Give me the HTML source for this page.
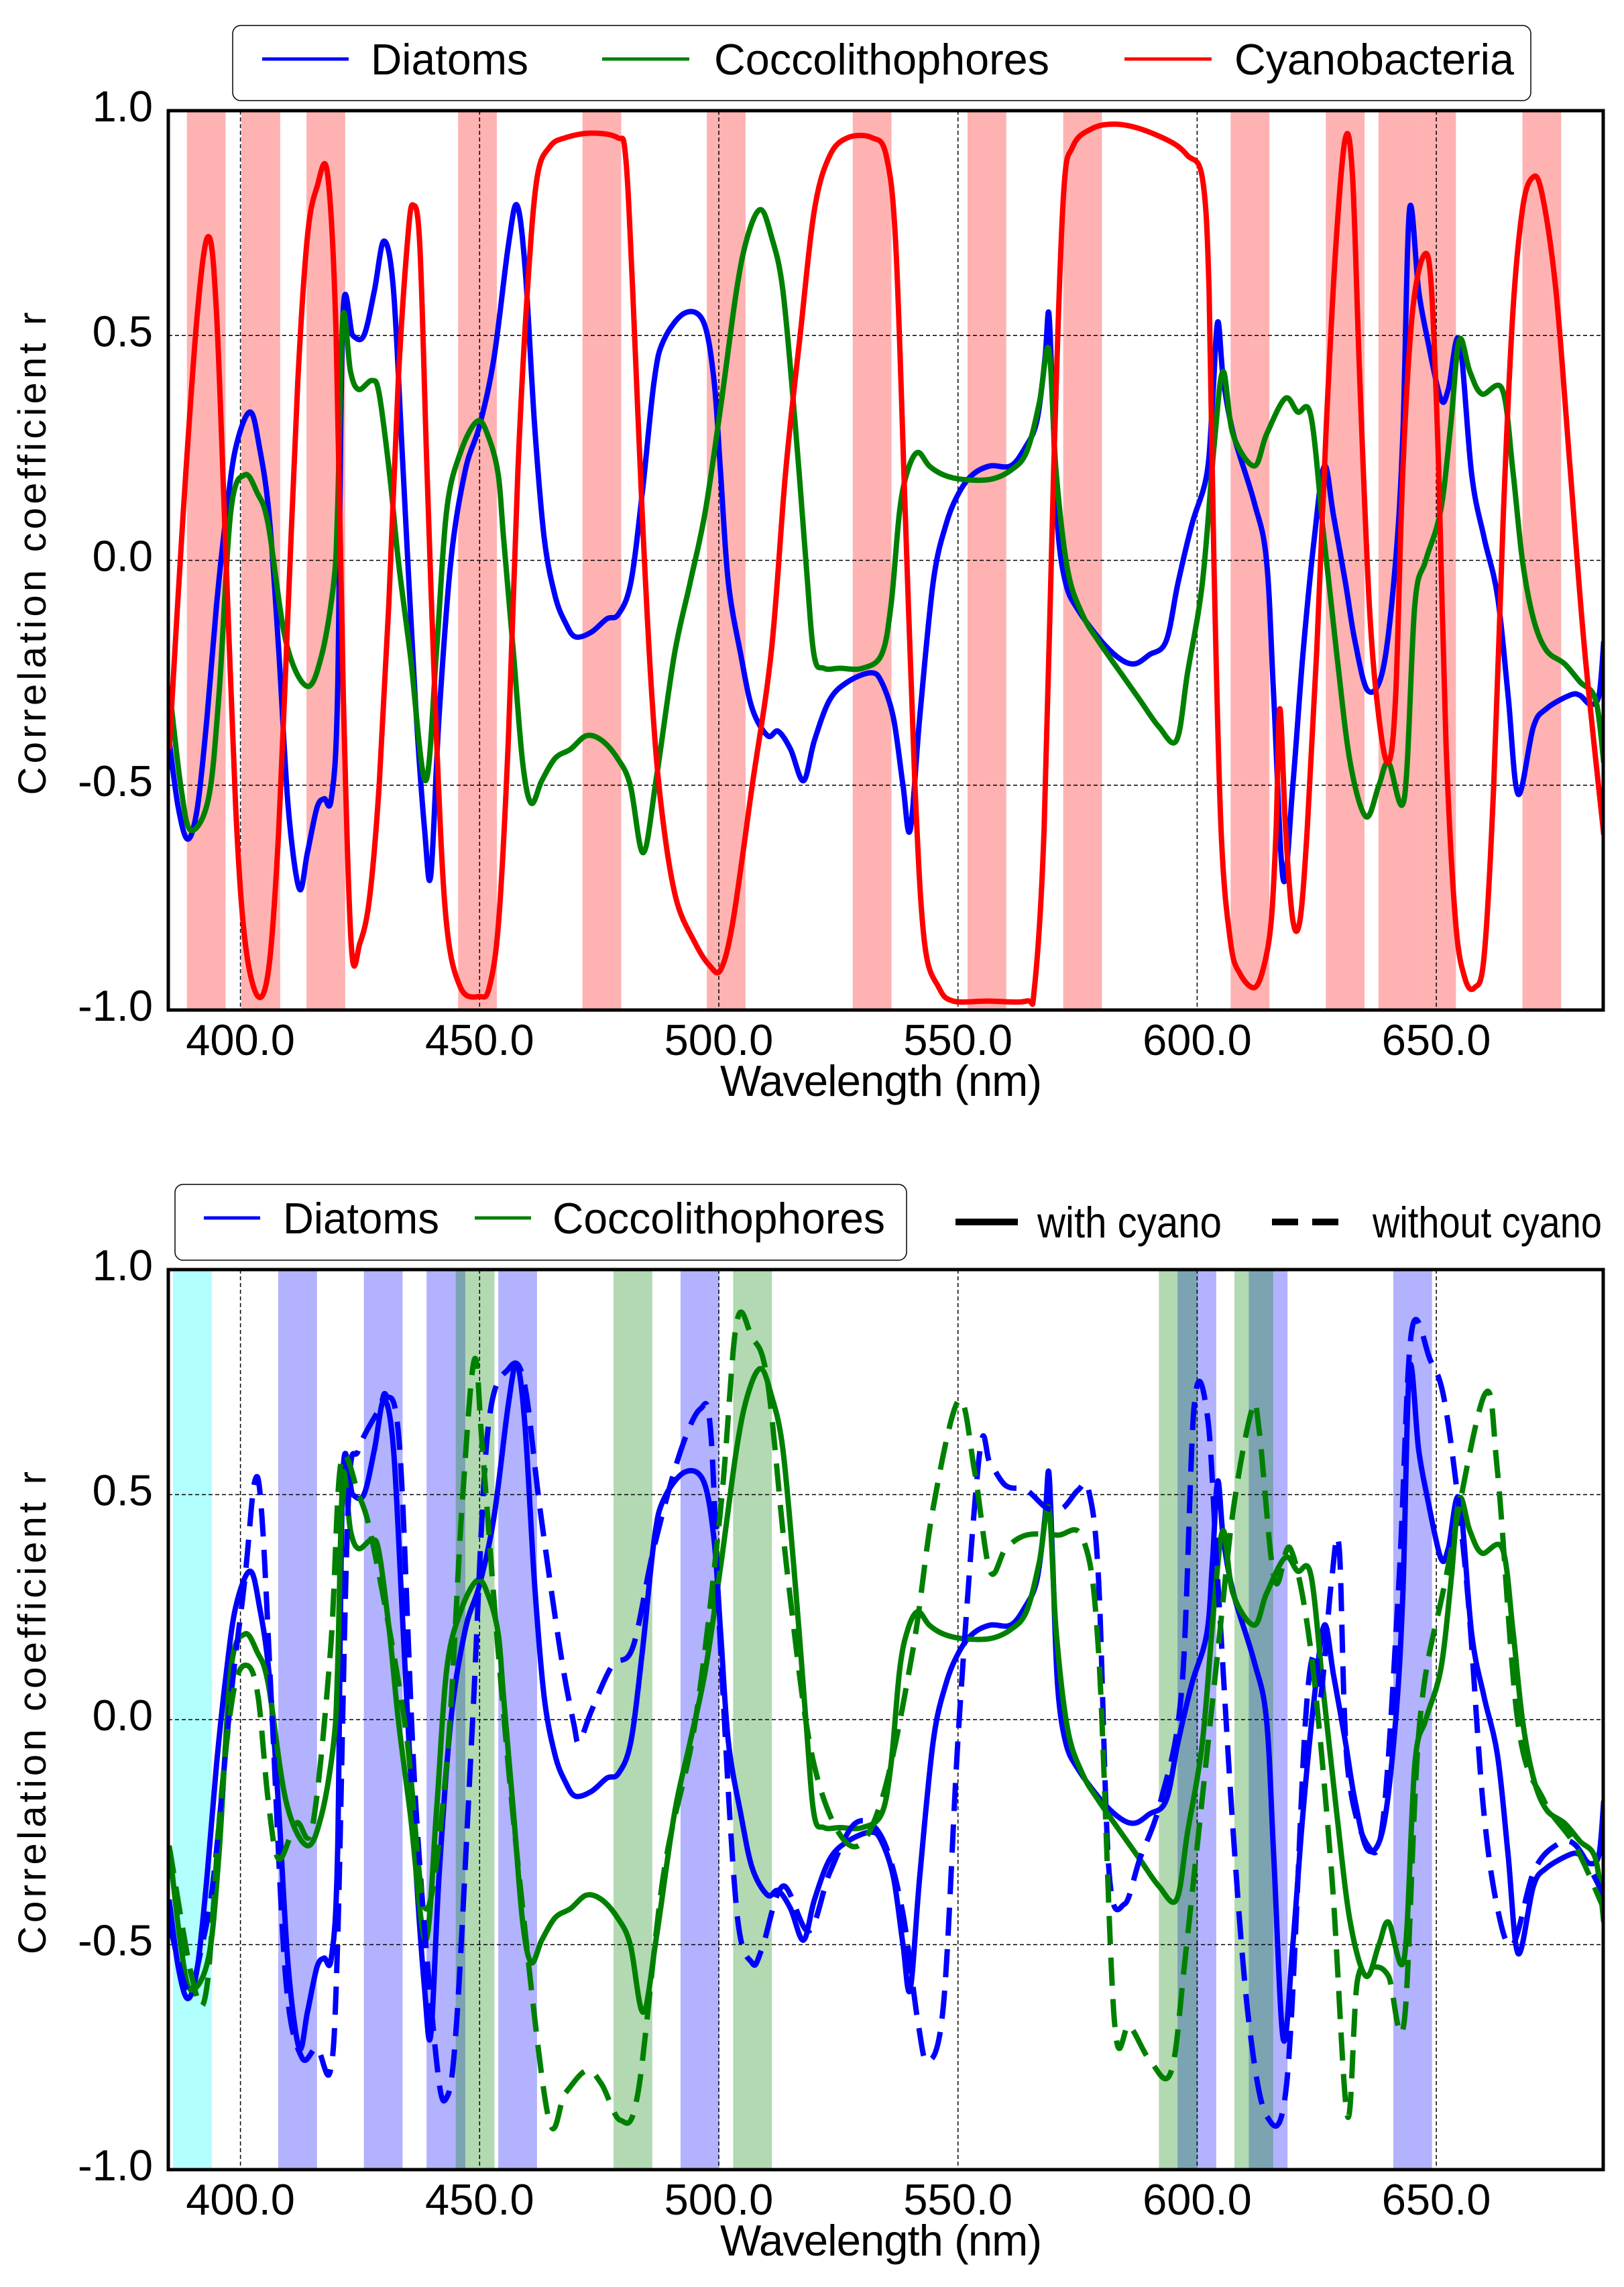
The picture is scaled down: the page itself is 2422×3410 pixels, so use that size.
<!DOCTYPE html>
<html><head><meta charset="utf-8"><style>
html,body{margin:0;padding:0;background:#fff}
svg{display:block}
text{font-family:"Liberation Sans",sans-serif;fill:#000}
</style></head><body>
<svg id="fig" width="2422" height="3410" viewBox="0 0 2422 3410" xmlns="http://www.w3.org/2000/svg">
<defs>
<clipPath id="clipTop"><rect x="251" y="165" width="2140" height="1341"/></clipPath>
<clipPath id="clipBot"><rect x="251" y="1893" width="2140" height="1342"/></clipPath>
</defs>
<g id="top"></g>
<g id="bot"></g>
</svg>
<script>
// ---- data ----
const xTicks = [400, 450, 500, 550, 600, 650];
const yTicks = [-1.0, -0.5, 0.0, 0.5, 1.0];
const yGrid = [-0.5, 0.0, 0.5];
const bandWidth = 8.1;
const cyanoBandStarts = [377, 388.8, 400.2, 413.8, 445.5, 471.5, 497.5, 528, 552, 572, 607, 626.9, 637.9, 646, 668];
const cyanBandStarts = [385.9];
const diatomBandStarts = [407.9, 425.8, 438.9, 453.9, 492, 595.9, 610.8, 641];
const coccoBandStarts = [445, 478, 503, 592, 607.8];

const cyanoR = [[385.1,-0.42],[388,0.1],[391,0.55],[393.3,0.72],[395,0.55],[397,0.0],[399,-0.55],[401,-0.85],[403.7,-0.97],[406,-0.9],[408,-0.6],[410,-0.1],[412,0.4],[414,0.72],[416,0.83],[418.2,0.86],[420,0.5],[421.5,-0.3],[423.2,-0.86],[425,-0.85],[427,-0.75],[429,-0.5],[431,-0.1],[433,0.4],[435,0.72],[436.1,0.79],[437.5,0.7],[439,0.2],[441,-0.4],[443,-0.8],[446,-0.95],[450,-0.97],[452,-0.95],[454,-0.8],[456,-0.4],[458,0.2],[460,0.6],[462,0.85],[464.7,0.92],[468,0.94],[473.4,0.95],[478.8,0.94],[480.5,0.9],[482,0.6],[484,0.1],[486,-0.3],[488,-0.55],[491,-0.75],[495,-0.85],[498,-0.9],[500.4,-0.91],[503,-0.8],[507,-0.5],[511,-0.2],[514,0.2],[517,0.5],[520,0.78],[523.2,0.9],[527,0.94],[532,0.94],[535,0.9],[537,0.7],[539,0.1],[541,-0.5],[543,-0.85],[546,-0.95],[549,-0.98],[556,-0.98],[564.3,-0.98],[566,-0.95],[568,-0.6],[570,0.2],[572,0.8],[574,0.92],[578,0.96],[582.7,0.97],[588,0.96],[594.6,0.93],[598,0.9],[601.1,0.85],[602.5,0.6],[603.5,0.0],[605,-0.6],[607,-0.85],[609,-0.92],[612,-0.95],[614,-0.9],[615.5,-0.8],[616.5,-0.6],[617.3,-0.33],[618.5,-0.6],[620,-0.8],[621.5,-0.8],[623,-0.6],[625,-0.2],[627,0.3],[629,0.7],[631,0.94],[632.5,0.85],[634,0.4],[636,-0.1],[638,-0.35],[640,-0.45],[641.5,-0.3],[643,0.2],[645,0.55],[647.5,0.68],[649,0.6],[650.5,0.2],[652,-0.4],[654,-0.8],[656,-0.93],[658,-0.95],[660,-0.88],[662,-0.5],[664,0.1],[666,0.55],[668,0.78],[670,0.85],[672,0.82],[675,0.6],[678,0.2],[681,-0.2],[685,-0.61]];

const diatomsWith = [[385.1,-0.4],[387,-0.55],[389,-0.62],[391,-0.55],[393,-0.35],[395,-0.1],[397,0.1],[399,0.25],[402,0.33],[404,0.25],[406,0.1],[408,-0.2],[410,-0.55],[412.3,-0.73],[414,-0.65],[416,-0.55],[417.5,-0.53],[419,-0.53],[420.3,-0.3],[421.4,0.54],[423.5,0.5],[425.8,0.5],[428,0.6],[430,0.71],[432,0.6],[434,0.2],[436.5,-0.3],[438.5,-0.6],[439.8,-0.7],[441.5,-0.35],[444,0.0],[447,0.2],[450,0.3],[453,0.45],[456,0.7],[457.8,0.79],[459.5,0.65],[461.5,0.3],[463.5,0.05],[465.8,-0.08],[468,-0.14],[470,-0.17],[473.3,-0.16],[476.6,-0.13],[479,-0.12],[481.6,-0.05],[484,0.15],[486.5,0.4],[488.5,0.49],[492.9,0.55],[496.8,0.53],[499,0.4],[500.4,0.19],[502,-0.05],[504.6,-0.21],[507,-0.33],[510.2,-0.39],[512.4,-0.38],[515,-0.42],[517.7,-0.49],[520,-0.4],[523.2,-0.31],[527,-0.27],[531.8,-0.25],[534,-0.27],[536.5,-0.35],[538.5,-0.5],[540,-0.6],[542,-0.35],[544.8,-0.05],[547.5,0.08],[550.2,0.15],[553,0.19],[556.7,0.21],[561,0.21],[564,0.25],[566.5,0.31],[568.2,0.45],[569,0.55],[569.8,0.35],[570.8,0.08],[572.5,-0.05],[575.1,-0.11],[580,-0.18],[584,-0.22],[587,-0.23],[590,-0.21],[593.5,-0.18],[596,-0.05],[598.9,0.08],[602,0.19],[603.2,0.35],[604.3,0.53],[605.5,0.4],[607.6,0.28],[611.9,0.13],[614.5,0.0],[616,-0.3],[618,-0.71],[620,-0.5],[622.1,-0.21],[624.5,0.05],[626.6,0.21],[628.5,0.1],[631,-0.05],[633,-0.18],[635.7,-0.29],[638.9,-0.24],[641.5,0.0],[643,0.28],[644.4,0.78],[646.3,0.6],[648,0.5],[650.9,0.36],[652.5,0.38],[654.8,0.49],[657.4,0.19],[660,0.05],[662.8,-0.08],[665,-0.3],[667.1,-0.52],[670.3,-0.37],[673,-0.33],[677.9,-0.3],[680,-0.3],[682.2,-0.32],[684,-0.3],[685,-0.18]];

const coccoWith = [[385.1,-0.28],[387.5,-0.5],[389.6,-0.6],[393.3,-0.53],[395.5,-0.3],[398,0.11],[400.9,0.19],[403.5,0.15],[405.8,0.08],[409.5,-0.18],[413.9,-0.28],[417,-0.21],[419.5,-0.05],[420.3,0.11],[421.4,0.54],[423,0.42],[424.7,0.38],[427.5,0.4],[429,0.37],[431.2,0.19],[433,0.0],[435.5,-0.21],[438.7,-0.49],[441,-0.2],[443.1,0.11],[446,0.24],[449.6,0.31],[452,0.27],[453.9,0.19],[455,0.05],[457.1,-0.21],[459,-0.45],[460.8,-0.54],[463,-0.49],[465.8,-0.44],[469,-0.42],[472.3,-0.39],[475.5,-0.4],[478.8,-0.44],[481.5,-0.5],[484.2,-0.65],[487,-0.48],[490.7,-0.21],[494,-0.05],[497.2,0.11],[500.5,0.35],[503.7,0.6],[506,0.72],[508.7,0.78],[511,0.72],[513.4,0.6],[516,0.3],[518.2,0.0],[519.9,-0.21],[522,-0.24],[525.3,-0.24],[530,-0.24],[534,-0.21],[536,-0.1],[537.8,0.11],[539.5,0.2],[541.6,0.24],[544,0.21],[547,0.19],[551,0.18],[556.7,0.18],[561,0.2],[564.3,0.24],[567,0.35],[569,0.47],[570.5,0.2],[572.9,-0.02],[576,-0.12],[579.4,-0.18],[584,-0.25],[588,-0.31],[592,-0.37],[595.7,-0.4],[598,-0.25],[601.1,-0.05],[603.5,0.25],[605.4,0.42],[607.5,0.28],[611.9,0.21],[614.5,0.28],[618.4,0.36],[621,0.33],[623.8,0.32],[626.5,0.05],[629.2,-0.21],[632,-0.45],[635.3,-0.57],[638,-0.5],[640,-0.45],[643.3,-0.53],[645.5,-0.1],[647.8,0.0],[650.9,0.11],[653,0.3],[654.8,0.49],[657,0.42],[659.5,0.37],[663.8,0.38],[666,0.2],[668,0.0],[670.3,-0.13],[673,-0.2],[676.8,-0.23],[680,-0.27],[683.3,-0.31],[685,-0.45]];

const diatomsWithout = [[385.1,-0.45],[389,-0.6],[392,-0.5],[394.5,-0.34],[398,0.05],[400.9,0.31],[403,0.53],[404.5,0.45],[406.7,-0.01],[409.5,-0.58],[412.8,-0.75],[416,-0.73],[418.8,-0.78],[420.3,-0.5],[422.5,0.47],[424.7,0.6],[429,0.69],[430.5,0.72],[433.3,0.6],[436.6,-0.18],[440.9,-0.75],[443.1,-0.84],[445.2,-0.67],[448.5,-0.01],[451.7,0.64],[456.1,0.78],[459.3,0.75],[462.6,0.47],[466.9,0.15],[469.7,-0.01],[470.8,-0.05],[473.4,0.02],[477.7,0.12],[482,0.16],[486.4,0.38],[491.8,0.59],[496.1,0.69],[498.3,0.64],[500.4,0.15],[503.7,-0.42],[506.9,-0.54],[509,-0.51],[513.4,-0.37],[518.8,-0.47],[523.2,-0.34],[528.6,-0.23],[534,-0.26],[538.3,-0.42],[541.6,-0.67],[543.7,-0.76],[547,-0.63],[550.2,-0.01],[554.5,0.59],[556.7,0.57],[560,0.52],[564.3,0.51],[568.6,0.47],[571.9,0.47],[575.1,0.51],[577.3,0.51],[579.4,0.31],[581.6,-0.34],[584.8,-0.41],[588,-0.31],[592.4,-0.18],[596.8,0.07],[599.4,0.7],[602.2,0.67],[604.3,0.31],[607.6,-0.26],[610.8,-0.67],[614.5,-0.88],[618.8,-0.8],[622.6,-0.01],[624.7,0.15],[625.8,0.05],[628.1,0.31],[629.7,0.38],[631.4,-0.1],[635.7,-0.28],[638.9,-0.22],[642.2,0.31],[644.8,0.86],[648.7,0.8],[652,0.69],[656.3,0.31],[659.7,-0.18],[662.8,-0.42],[666,-0.5],[670.3,-0.34],[674.9,-0.28],[679.2,-0.28],[685,-0.39]];

const coccoWithout = [[385.1,-0.28],[390,-0.58],[392.9,-0.6],[395.9,-0.18],[398.7,0.07],[401.5,0.12],[403.7,0.05],[405.8,-0.18],[408,-0.31],[411.7,-0.23],[415,-0.24],[418.8,0.15],[421,0.57],[424.7,0.5],[427.9,0.38],[434.4,-0.01],[438.7,-0.42],[443.1,-0.1],[446.3,0.47],[448.9,0.8],[450.6,0.6],[453.9,0.15],[458.2,-0.34],[464.3,-0.88],[467.9,-0.83],[472.3,-0.78],[475.5,-0.81],[479.4,-0.89],[483.1,-0.83],[488.5,-0.34],[495,-0.01],[500.4,0.47],[503.7,0.88],[506.9,0.85],[510.2,0.75],[514.5,0.31],[519.9,-0.1],[527.5,-0.28],[534,-0.18],[540.5,0.15],[544.8,0.47],[550.2,0.71],[553.5,0.55],[556.7,0.33],[560,0.38],[564.3,0.41],[570.8,0.41],[576.2,0.4],[579.4,0.15],[582.7,-0.67],[585.9,-0.68],[590.3,-0.76],[594.6,-0.78],[597.8,-0.5],[604.3,0.15],[607.6,0.47],[611.5,0.69],[613,0.64],[616.2,0.31],[619.5,0.38],[623.8,0.15],[628.1,-0.34],[631.4,-0.88],[633.5,-0.58],[636.8,-0.55],[640,-0.57],[643.3,-0.67],[646.5,-0.01],[651.9,0.31],[660,0.72],[662.8,0.55],[667.1,-0.01],[672.5,-0.18],[679,-0.28],[685,-0.42]];

// ---- scales ----
const NS = 'http://www.w3.org/2000/svg';
const X0 = 251, X1 = 2391;
function xScale(wl){ return 358.6 + (wl - 400) * 7.134; }
function makeY(top, bottom){ return r => (top + bottom)/2 - r * (bottom - top)/2; }
function mk(tag, attrs, parent){
  const e = document.createElementNS(NS, tag);
  for (const k in attrs) e.setAttribute(k, attrs[k]);
  parent.appendChild(e);
  return e;
}
function pathFor(pts, y){
  const P = pts.map(p => [xScale(p[0]), y(p[1])]);
  let d = 'M' + P[0][0].toFixed(1) + ',' + P[0][1].toFixed(1);
  for (let i = 0; i < P.length - 1; i++){
    const p0 = P[Math.max(0,i-1)], p1 = P[i], p2 = P[i+1], p3 = P[Math.min(P.length-1,i+2)];
    const c1x = p1[0] + (p2[0]-p0[0])/6, c1y = p1[1] + (p2[1]-p0[1])/6;
    const c2x = p2[0] - (p3[0]-p1[0])/6, c2y = p2[1] - (p3[1]-p1[1])/6;
    d += 'C' + c1x.toFixed(1)+','+c1y.toFixed(1)+' '+c2x.toFixed(1)+','+c2y.toFixed(1)+' '+p2[0].toFixed(1)+','+p2[1].toFixed(1);
  }
  return d;
}

function drawPanel(g, top, bottom, clipId, bandSets, series){
  const y = makeY(top, bottom);
  const plot = mk('g', {'clip-path': 'url(#' + clipId + ')'}, g);
  
  
  bandSets.forEach(bs => {
    bs.starts.forEach(s => {
      const r = mk('rect', {x: xScale(s), y: top, width: bandWidth * 7.134, height: bottom - top, fill: bs.color, 'fill-opacity': bs.op}, plot);
      
      
    });
  });
  xTicks.forEach(t => {
    const l = mk('line', {x1: xScale(t), x2: xScale(t), y1: top, y2: bottom, stroke: '#000', 'stroke-width': 1.5, 'stroke-dasharray': '6,4'}, plot);
    
    
  });
  yGrid.forEach(t => {
    const l = mk('line', {x1: X0, x2: X1, y1: y(t), y2: y(t), stroke: '#000', 'stroke-width': 1.5, 'stroke-dasharray': '6,4'}, plot);
    
    
  });
  series.forEach(s => {
    const p = mk('path', {d: pathFor(s.data, y), fill: 'none', stroke: s.color, 'stroke-width': 8, 'stroke-linejoin': 'round'}, plot);
    if (s.dash) p.setAttribute('stroke-dasharray', s.dash);
    
    
  });
  const fr = mk('rect', {x: X0, y: top, width: X1 - X0, height: bottom - top, fill: 'none', stroke: '#000', 'stroke-width': 5}, g);
  
  
  xTicks.forEach(t => {
    const tx = mk('text', {x: xScale(t), y: bottom + 67, 'font-size': 65, 'text-anchor': 'middle'}, g);
    tx.textContent = t.toFixed(1);
    
    
  });
  yTicks.forEach(t => {
    const tx = mk('text', {x: 228, y: y(t) + 16, 'font-size': 65, 'text-anchor': 'end'}, g);
    tx.textContent = t.toFixed(1);
    
    
  });
  const xl = mk('text', {x: 1314, y: bottom + 128, 'font-size': 65, 'text-anchor': 'middle', textLength: 480}, g);
  xl.textContent = 'Wavelength (nm)';
  
  
  const cy = (top + bottom) / 2;
  const yl = mk('text', {x: 0, y: 0, 'font-size': 58, 'text-anchor': 'middle', textLength: 720, transform: 'translate(68,' + (cy - 10) + ') rotate(-90)'}, g);
  yl.textContent = 'Correlation coefficient r';
  
  
}

function legendEntry(g, x1, x2, ly, color, dash, label, tx, tlen, name, w){
  const e = mk('g', {}, g);
  
  
  const l = mk('line', {x1: x1, x2: x2, y1: ly, y2: ly, stroke: color, 'stroke-width': w || 5}, e);
  if (dash) l.setAttribute('stroke-dasharray', dash);
  const t = mk('text', {x: tx, y: ly + 23, 'font-size': 65, textLength: tlen, lengthAdjust: 'spacingAndGlyphs'}, e);
  t.textContent = label;
}

// top chart
const gTop = document.getElementById('top');
drawPanel(gTop, 165, 1506, 'clipTop',
  [{starts: cyanoBandStarts, color: '#ff0000', op: 0.3, name: 'cyano-band'}],
  [{data: diatomsWith, color: '#0000ff', name: 'diatoms-line'},
   {data: coccoWith, color: '#008000', name: 'coccolithophores-line'},
   {data: cyanoR, color: '#ff0000', name: 'cyanobacteria-line'}]);
const lgTop = mk('g', {}, gTop);


const lbt = mk('rect', {x: 347, y: 38, width: 1936, height: 112, rx: 12, fill: '#fff', stroke: '#000', 'stroke-width': 1.5}, lgTop);


legendEntry(lgTop, 391, 520, 88, '#0000ff', null, 'Diatoms', 553, 235, 'legend-entry-diatoms');
legendEntry(lgTop, 898, 1028, 88, '#008000', null, 'Coccolithophores', 1065, 500, 'legend-entry-coccolithophores');
legendEntry(lgTop, 1677, 1807, 88, '#ff0000', null, 'Cyanobacteria', 1841, 417, 'legend-entry-cyanobacteria');

// bottom chart
const gBot = document.getElementById('bot');
drawPanel(gBot, 1893, 3235, 'clipBot',
  [{starts: cyanBandStarts, color: '#00ffff', op: 0.3, name: 'cyan-band'},
   {starts: diatomBandStarts, color: '#0000ff', op: 0.3, name: 'diatom-band'},
   {starts: coccoBandStarts, color: '#008000', op: 0.3, name: 'coccolithophore-band'}],
  [{data: diatomsWith, color: '#0000ff', name: 'diatoms-with-cyano-line'},
   {data: coccoWith, color: '#008000', name: 'coccolithophores-with-cyano-line'},
   {data: diatomsWithout, color: '#0000ff', dash: '42,20', name: 'diatoms-without-cyano-line'},
   {data: coccoWithout, color: '#008000', dash: '42,20', name: 'coccolithophores-without-cyano-line'}]);
const lgBot = mk('g', {}, gBot);


const lbb = mk('rect', {x: 261, y: 1766, width: 1091, height: 113, rx: 12, fill: '#fff', stroke: '#000', 'stroke-width': 1.5}, lgBot);


legendEntry(lgBot, 304, 388, 1816, '#0000ff', null, 'Diatoms', 422, 233, 'legend-entry-diatoms');
legendEntry(lgBot, 708, 792, 1816, '#008000', null, 'Coccolithophores', 824, 496, 'legend-entry-coccolithophores');
legendEntry(lgBot, 1425, 1518, 1822, '#000', null, 'with cyano', 1547, 275, 'legend-entry-with-cyano', 10);
legendEntry(lgBot, 1897, 2005, 1822, '#000', '39,21', 'without cyano', 2047, 342, 'legend-entry-without-cyano', 10);
</script>
</body></html>
